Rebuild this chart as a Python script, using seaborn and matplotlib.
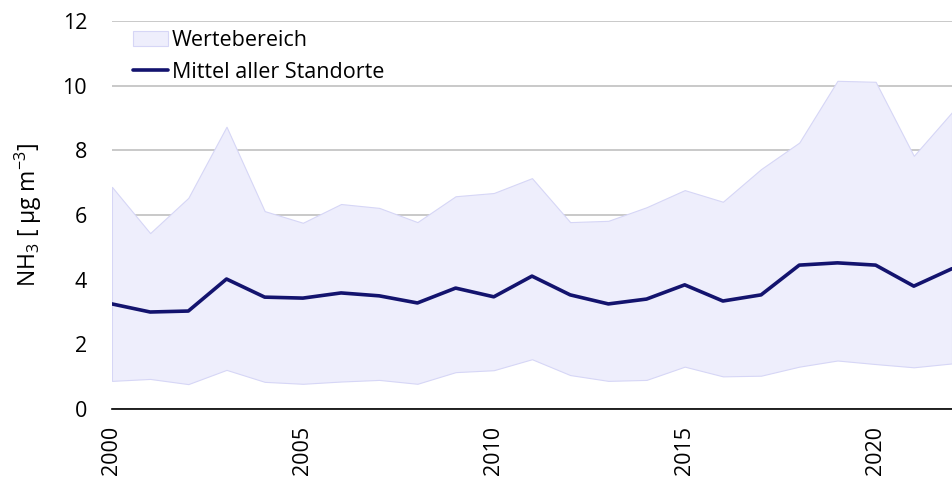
import numpy as np
import pandas as pd
import matplotlib
matplotlib.use('Agg')
import matplotlib.pyplot as plt
import seaborn as sns
from matplotlib.patches import Patch
from matplotlib.lines import Line2D

# data
years = list(range(2000, 2023))
mean_all = [3.25, 3.00, 3.03, 4.02, 3.46, 3.43, 3.59, 3.50, 3.28, 3.74, 3.47, 4.11,
            3.53, 3.25, 3.40, 3.84, 3.34, 3.53, 4.45, 4.52, 4.45, 3.80, 4.34]
range_max = [6.87, 5.44, 6.53, 8.73, 6.12, 5.76, 6.34, 6.22, 5.78, 6.58, 6.68, 7.14,
             5.78, 5.82, 6.24, 6.77, 6.41, 7.42, 8.24, 10.15, 10.12, 7.83, 9.18]
range_min = [0.87, 0.93, 0.77, 1.21, 0.84, 0.78, 0.85, 0.90, 0.78, 1.14, 1.20, 1.54,
             1.05, 0.87, 0.90, 1.31, 1.01, 1.03, 1.31, 1.50, 1.39, 1.29, 1.41]
label_years = [2000, 2005, 2010, 2015, 2020]

df = pd.DataFrame({'Jahr': years, 'Mittel': mean_all, 'Min': range_min, 'Max': range_max})

sns.set_style('white')
plt.rcParams['font.family'] = ['Open Sans', 'DejaVu Sans']
plt.rcParams['mathtext.fontset'] = 'custom'
plt.rcParams['mathtext.rm'] = 'Open Sans'
plt.rcParams['text.color'] = 'black'
plt.rcParams['axes.labelcolor'] = 'black'
plt.rcParams['xtick.color'] = 'black'
plt.rcParams['ytick.color'] = 'black'

fig = plt.figure(figsize=(9.52, 4.79), dpi=100)
ax = fig.add_axes([0.1176, 0.1461, 0.8824, 0.8101])

fill_col = '#eeeefc'
edge_col = '#d6d6f6'
line_col = '#13136e'

ax.fill_between(df['Jahr'], df['Min'], df['Max'], color=fill_col, edgecolor=edge_col,
                linewidth=0.8, zorder=1)
sns.lineplot(data=df, x='Jahr', y='Mittel', color=line_col, linewidth=2.6, ax=ax, zorder=3)

ax.set_ylim(0, 12)
ax.set_xlim(2000, 2021.82)
ax.set_yticks(range(0, 13, 2))
ax.yaxis.grid(True, color='#c0c0c0', linewidth=1.2, zorder=0)
ax.set_axisbelow(True)

ax.set_xticks(years)
ax.set_xticklabels([str(y) if y in label_years else '' for y in years], rotation=90)
ax.tick_params(axis='x', direction='out', length=8, width=1.2, color='black',
               labelsize=15.5, pad=4)
ax.tick_params(axis='y', length=0, labelsize=15.5, pad=18)

for s in ['top', 'right', 'left']:
    ax.spines[s].set_visible(False)
ax.spines['bottom'].set_color('black')
ax.spines['bottom'].set_linewidth(1.2)

ax.set_xlabel('')
ax.set_ylabel('NH$_\\mathregular{3}$ [ µg m$^\\mathregular{-3}$]', fontsize=16.5, labelpad=13)

handles = [Patch(facecolor=fill_col, edgecolor=edge_col, linewidth=0.8),
           Line2D([0], [0], color=line_col, linewidth=2.6)]
ax.legend(handles, ['Wertebereich', 'Mittel aller Standorte'], loc='upper left',
          bbox_to_anchor=(0.01, 1.01), frameon=False, fontsize=15.5,
          handlelength=1.6, handletextpad=0.2, labelspacing=0.5, borderaxespad=0.2)

fig.savefig('out.png', dpi=100)
